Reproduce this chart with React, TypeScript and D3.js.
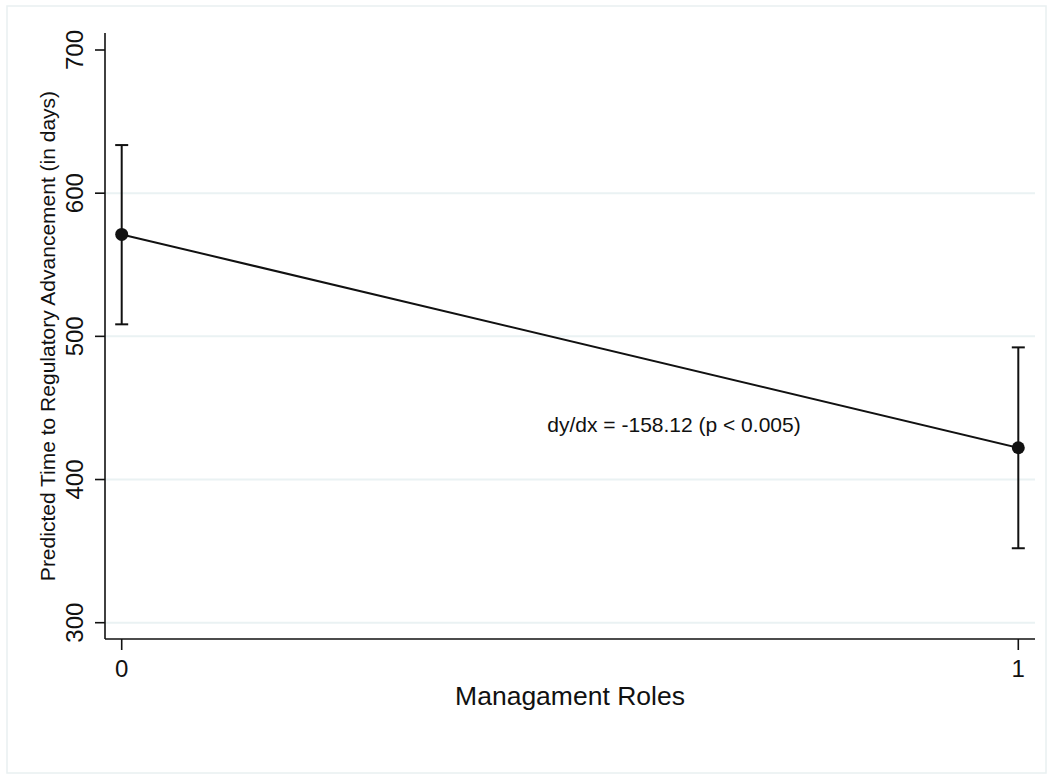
import React from "react";
import * as d3 from "d3";

// Predicted margins with 95% confidence intervals
const categories: number[] = [0, 1];
const predicted: number[] = [571.2, 422.2];
const ciLower: number[] = [508.4, 352.0];
const ciUpper: number[] = [633.6, 492.3];
const yTicks: number[] = [300, 400, 500, 600, 700];
const gridValues: number[] = [300, 400, 500, 600];
const xTicks: number[] = [0, 1];
const annotation = "dy/dx = -158.12 (p < 0.005)";
const xTitle = "Managament Roles";
const yTitle = "Predicted Time to Regulatory Advancement (in days)";

const W = 1051;
const H = 774;
const plot = { left: 105, right: 1035, top: 33, bottom: 639 };
const FONT = "'Liberation Sans', Arial, Helvetica, sans-serif";
const INK = "#111";

export default function App() {
  const x = d3.scaleLinear().domain([0, 1]).range([121.7, 1018.3]);
  const y = d3.scaleLinear().domain([300, 700]).range([622.7, 50]);

  const line = d3
    .line<number>()
    .x((_, i) => x(categories[i]))
    .y((d) => y(d));

  const capHalf = 6.5;

  return (
    <svg
      width={W}
      height={H}
      style={{ position: "absolute", left: 0, top: 0, background: "#fff" }}
    >
      {/* outer graph frame */}
      <rect x={7} y={6} width={1039} height={767} fill="#fff" stroke="#e9f0f1" strokeWidth={1.5} />

      {/* horizontal grid */}
      {gridValues.map((v) => (
        <line
          key={`g${v}`}
          x1={plot.left}
          x2={plot.right}
          y1={y(v)}
          y2={y(v)}
          stroke="#eaf2f3"
          strokeWidth={2}
        />
      ))}

      {/* axes */}
      <line x1={plot.left} x2={plot.left} y1={plot.top} y2={plot.bottom} stroke={INK} strokeWidth={1.6} />
      <line x1={plot.left} x2={plot.right} y1={plot.bottom} y2={plot.bottom} stroke={INK} strokeWidth={1.6} />

      {/* y ticks and labels */}
      {yTicks.map((v) => (
        <g key={`y${v}`}>
          <line x1={plot.left - 10} x2={plot.left} y1={y(v)} y2={y(v)} stroke={INK} strokeWidth={1.6} />
          <text
            transform={`translate(83,${y(v)}) rotate(-90)`}
            textAnchor="middle"
            fontFamily={FONT}
            fontSize={24}
            fill={INK}
          >
            {v}
          </text>
        </g>
      ))}

      {/* x ticks and labels */}
      {xTicks.map((v) => (
        <g key={`x${v}`}>
          <line x1={x(v)} x2={x(v)} y1={plot.bottom} y2={plot.bottom + 11} stroke={INK} strokeWidth={1.6} />
          <text x={x(v)} y={677} textAnchor="middle" fontFamily={FONT} fontSize={24} fill={INK}>
            {v}
          </text>
        </g>
      ))}

      {/* axis titles */}
      <text
        x={(plot.left + plot.right) / 2}
        y={705}
        textAnchor="middle"
        fontFamily={FONT}
        fontSize={26.5}
        fill={INK}
      >
        {xTitle}
      </text>
      <text
        transform={`translate(55,${(plot.top + plot.bottom) / 2}) rotate(-90)`}
        textAnchor="middle"
        fontFamily={FONT}
        fontSize={21}
        fill={INK}
      >
        {yTitle}
      </text>

      {/* confidence intervals */}
      {categories.map((c, i) => (
        <g key={`ci${c}`} stroke={INK} strokeWidth={2}>
          <line x1={x(c)} x2={x(c)} y1={y(ciLower[i])} y2={y(ciUpper[i])} />
          <line x1={x(c) - capHalf} x2={x(c) + capHalf} y1={y(ciLower[i])} y2={y(ciLower[i])} />
          <line x1={x(c) - capHalf} x2={x(c) + capHalf} y1={y(ciUpper[i])} y2={y(ciUpper[i])} />
        </g>
      ))}

      {/* connecting line */}
      <path d={line(predicted) || ""} fill="none" stroke={INK} strokeWidth={2} />

      {/* point estimates */}
      {categories.map((c, i) => (
        <circle key={`p${c}`} cx={x(c)} cy={y(predicted[i])} r={6.5} fill={INK} />
      ))}

      {/* slope annotation */}
      <text x={674} y={432} textAnchor="middle" fontFamily={FONT} fontSize={21} fill={INK}>
        {annotation}
      </text>
    </svg>
  );
}
